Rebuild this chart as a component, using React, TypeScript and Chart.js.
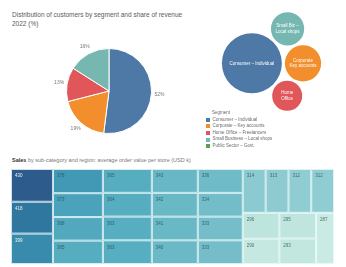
import React, { useEffect, useRef } from "react";
import { Chart, registerables } from "chart.js";

Chart.register(...registerables);

const FONT = "'Liberation Sans', Arial, sans-serif";

// ---------- data ----------
const segmentNames = [
  "Consumer – Individual",
  "Corporate – Key accounts",
  "Home Office – Freelancers",
  "Small Business – Local shops",
  "Public Sector – Govt.",
];
const segmentColors = ["#4e79a7", "#f28e2b", "#e15759", "#76b7b2", "#59a14f"];
const pieShares = [52, 19, 13, 16];
const pieLabels = ["52%", "19%", "13%", "16%"];
const bubbleLabels = [
  ["Consumer – Individual"],
  ["Corporate", "Key accounts"],
  ["Home", "Office"],
  ["Small Biz –", "Local shops"],
];

// treemap values (grouped as the layout groups them)
const tmCol1 = [430, 418, 399];
const tmCol2 = [378, 373, 368, 365];
const tmCol3 = [365, 364, 363, 363];
const tmCol4 = [343, 342, 341, 340];
const tmCol5 = [336, 334, 333, 333];
const tmTopRight = [314, 313, 312, 312];
const tmBottomA = [296, 290];
const tmBottomB = [295, 293];
const tmBottomC = [287];

// ---------- style ----------
const tmColorStops: [number, string][] = [
  [287, "#c9ebe3"],
  [300, "#b8e2db"],
  [313, "#8dcbd1"],
  [335, "#71bcc8"],
  [345, "#64b6c5"],
  [365, "#56adc0"],
  [375, "#47a0ba"],
  [380, "#3f95b3"],
  [400, "#388aad"],
  [418, "#2f779f"],
  [430, "#2c5b8c"],
];

function hexToRgb(h: string) {
  const n = parseInt(h.slice(1), 16);
  return [(n >> 16) & 255, (n >> 8) & 255, n & 255];
}
function colorFor(v: number) {
  const s = tmColorStops;
  if (v <= s[0][0]) return s[0][1];
  for (let i = 1; i < s.length; i++) {
    if (v <= s[i][0]) {
      const t = (v - s[i - 1][0]) / (s[i][0] - s[i - 1][0]);
      const a = hexToRgb(s[i - 1][1]);
      const b = hexToRgb(s[i][1]);
      const c = a.map((ai, k) => Math.round(ai + (b[k] - ai) * t));
      return `rgb(${c[0]},${c[1]},${c[2]})`;
    }
  }
  return s[s.length - 1][1];
}

type TNode = { value?: number; children?: TNode[] };
const leaves = (arr: number[]): TNode[] => arr.map((v) => ({ value: v }));
const treeRoot: TNode = {
  children: [
    { children: leaves(tmCol1) },
    { children: leaves(tmCol2) },
    { children: leaves(tmCol3) },
    { children: leaves(tmCol4) },
    { children: leaves(tmCol5) },
    {
      children: [
        { children: leaves(tmTopRight) },
        {
          children: [
            { children: leaves(tmBottomA) },
            { children: leaves(tmBottomB) },
            ...leaves(tmBottomC),
          ],
        },
      ],
    },
  ],
};
function sumNode(n: TNode): number {
  return n.children ? n.children.reduce((a, c) => a + sumNode(c), 0) : n.value || 0;
}
type Cell = { x0: number; x1: number; y0: number; y1: number; value: number };
function sliceDice(n: TNode, x0: number, y0: number, x1: number, y1: number, horiz: boolean, out: Cell[]) {
  if (!n.children) {
    out.push({ x0, x1, y0, y1, value: n.value || 0 });
    return;
  }
  const total = sumNode(n);
  let pos = horiz ? x0 : y0;
  const span = horiz ? x1 - x0 : y1 - y0;
  n.children.forEach((c) => {
    const len = (sumNode(c) / total) * span;
    if (horiz) sliceDice(c, pos, y0, pos + len, y1, !horiz, out);
    else sliceDice(c, x0, pos, x1, pos + len, !horiz, out);
    pos += len;
  });
}

export default function App() {
  const pieRef = useRef<HTMLCanvasElement>(null);
  const bubbleRef = useRef<HTMLCanvasElement>(null);
  const tmRef = useRef<HTMLCanvasElement>(null);

  useEffect(() => {
    Chart.defaults.font.family = FONT;

    // ---------- pie ----------
    const pieLabelPlugin = {
      id: "pieLabels",
      afterDatasetsDraw(chart: any) {
        const ctx = chart.ctx;
        const meta = chart.getDatasetMeta(0);
        ctx.save();
        ctx.font = `5px ${FONT}`;
        ctx.fillStyle = "#777";
        ctx.textAlign = "center";
        ctx.textBaseline = "middle";
        meta.data.forEach((arc: any, i: number) => {
          const p = arc.getProps(["x", "y", "startAngle", "endAngle", "outerRadius"], true);
          const mid = (p.startAngle + p.endAngle) / 2;
          const r = p.outerRadius + 8;
          ctx.fillText(pieLabels[i], p.x + Math.cos(mid) * r, p.y + Math.sin(mid) * r);
        });
        ctx.restore();
      },
    };
    const pie = new Chart(pieRef.current!, {
      type: "pie",
      data: {
        labels: segmentNames.slice(0, pieShares.length),
        datasets: [
          {
            data: pieShares,
            backgroundColor: segmentColors.slice(0, pieShares.length),
            borderColor: "#ffffff",
            borderWidth: 1,
          },
        ],
      },
      options: {
        responsive: false,
        animation: false,
        layout: { padding: 17 },
        plugins: { legend: { display: false }, tooltip: { enabled: false } },
      },
      plugins: [pieLabelPlugin],
    });

    // ---------- bubbles (packed) ----------
    const k = 30 / Math.sqrt(52);
    const radii = pieShares.map((v) => k * Math.sqrt(v));
    const order = pieShares.map((_, i) => i).sort((a, b) => pieShares[b] - pieShares[a]);
    const pad = 3;
    const pos: { x: number; y: number }[] = [];
    const A = order[0], B = order[1];
    pos[A] = { x: 0, y: 0 };
    const d = radii[A] + radii[B] + pad;
    pos[B] = { x: d, y: 0 };
    order.slice(2).forEach((idx, j) => {
      const dA = radii[A] + radii[idx] + pad;
      const dB = radii[B] + radii[idx] + pad;
      const x = (dA * dA - dB * dB + d * d) / (2 * d);
      const y = Math.sqrt(Math.max(0, dA * dA - x * x)) * (j === 0 ? -1 : 1);
      pos[idx] = { x, y };
    });
    let minX = Infinity, maxX = -Infinity, minY = Infinity, maxY = -Infinity;
    pos.forEach((p, i) => {
      minX = Math.min(minX, p.x - radii[i]);
      maxX = Math.max(maxX, p.x + radii[i]);
      minY = Math.min(minY, p.y - radii[i]);
      maxY = Math.max(maxY, p.y + radii[i]);
    });
    const cx = (minX + maxX) / 2, cy = (minY + maxY) / 2;
    const BW = 145, BH = 113;
    const bubbleLabelPlugin = {
      id: "bubbleLabels",
      afterDatasetsDraw(chart: any) {
        const ctx = chart.ctx;
        const meta = chart.getDatasetMeta(0);
        ctx.save();
        ctx.font = `4.5px ${FONT}`;
        ctx.fillStyle = "#ffffff";
        ctx.textAlign = "center";
        ctx.textBaseline = "middle";
        meta.data.forEach((pt: any, i: number) => {
          const lines = bubbleLabels[i];
          lines.forEach((l, li) => {
            ctx.fillText(l, pt.x, pt.y + (li - (lines.length - 1) / 2) * 5.5);
          });
        });
        ctx.restore();
      },
    };
    const bubble = new Chart(bubbleRef.current!, {
      type: "bubble",
      data: {
        datasets: [
          {
            data: pieShares.map((v, i) => ({ x: pos[i].x, y: pos[i].y, r: radii[i] })),
            backgroundColor: segmentColors.slice(0, pieShares.length),
            borderWidth: 0,
            clip: false as any,
          },
        ],
      },
      options: {
        responsive: false,
        animation: false,
        layout: { padding: 0, autoPadding: false },
        scales: {
          x: { type: "linear", display: false, min: cx - BW / 2, max: cx + BW / 2 },
          y: { type: "linear", display: false, min: cy - BH / 2, max: cy + BH / 2, reverse: true },
        },
        plugins: { legend: { display: false }, tooltip: { enabled: false } },
      },
      plugins: [bubbleLabelPlugin],
    });

    // ---------- treemap ----------
    const total = sumNode(treeRoot);
    const cells: Cell[] = [];
    sliceDice(treeRoot, 0, 0, total, 1, true, cells);
    const treemapPlugin = {
      id: "treemapCells",
      afterDatasetsDraw(chart: any) {
        const ctx = chart.ctx;
        const { x, y } = chart.scales;
        ctx.save();
        cells.forEach((c) => {
          const px0 = x.getPixelForValue(c.x0), px1 = x.getPixelForValue(c.x1);
          const py0 = y.getPixelForValue(c.y0), py1 = y.getPixelForValue(c.y1);
          ctx.fillStyle = colorFor(c.value);
          ctx.fillRect(px0, py0, px1 - px0, py1 - py0);
          ctx.strokeStyle = "rgba(235,250,250,0.85)";
          ctx.lineWidth = 1;
          ctx.strokeRect(px0 + 0.5, py0 + 0.5, px1 - px0 - 1, py1 - py0 - 1);
          ctx.font = `4.5px ${FONT}`;
          ctx.fillStyle = c.value >= 395 ? "rgba(255,255,255,0.9)" : "rgba(40,70,80,0.75)";
          ctx.textAlign = "left";
          ctx.textBaseline = "middle";
          ctx.fillText(String(c.value), px0 + 4, py0 + 7);
        });
        ctx.restore();
      },
    };
    const tm = new Chart(tmRef.current!, {
      type: "scatter",
      data: {
        datasets: [
          {
            data: cells.map((c) => ({ x: (c.x0 + c.x1) / 2, y: (c.y0 + c.y1) / 2 })),
            pointRadius: 0,
          },
        ],
      },
      options: {
        responsive: false,
        animation: false,
        layout: { padding: 0, autoPadding: false },
        scales: {
          x: { type: "linear", display: false, min: 0, max: total },
          y: { type: "linear", display: false, min: 0, max: 1, reverse: true },
        },
        plugins: { legend: { display: false }, tooltip: { enabled: false } },
      },
      plugins: [treemapPlugin],
    });

    return () => {
      pie.destroy();
      bubble.destroy();
      tm.destroy();
    };
  }, []);

  const abs = (l: number, t: number): React.CSSProperties => ({ position: "absolute", left: l, top: t });

  return (
    <div
      style={{
        position: "absolute",
        left: 0,
        top: 0,
        width: 346,
        height: 267,
        background: "#ffffff",
        fontFamily: FONT,
        overflow: "hidden",
      }}
    >
      <div style={{ ...abs(12, 10), fontSize: 6.5, lineHeight: "9px", color: "#5a5a5a", whiteSpace: "nowrap" }}>
        <div>Distribution of customers by segment and share of revenue</div>
        <div>2022 (%)</div>
      </div>
      <canvas ref={pieRef} width={120} height={120} style={{ ...abs(49, 31), width: 120, height: 120 }} />
      <canvas ref={bubbleRef} width={145} height={113} style={{ ...abs(199, 5), width: 145, height: 113 }} />
      <div style={{ ...abs(206, 110), fontSize: 4.5, lineHeight: "6.6px", color: "#6a6a6a", whiteSpace: "nowrap" }}>
        <div style={{ paddingLeft: 6 }}>Segment</div>
        {segmentNames.map((n, i) => (
          <div key={n} style={{ display: "flex", alignItems: "center" }}>
            <span
              style={{ display: "inline-block", width: 4, height: 4, background: segmentColors[i], marginRight: 2.5 }}
            />
            <span>{n}</span>
          </div>
        ))}
      </div>
      <div style={{ ...abs(12, 157), fontSize: 5.5, lineHeight: "7px", color: "#777", whiteSpace: "nowrap" }}>
        <b style={{ color: "#333" }}>Sales</b> by sub-category and region: average order value per store (USD k)
      </div>
      <canvas ref={tmRef} width={323} height={95} style={{ ...abs(11, 169), width: 323, height: 95 }} />
    </div>
  );
}
